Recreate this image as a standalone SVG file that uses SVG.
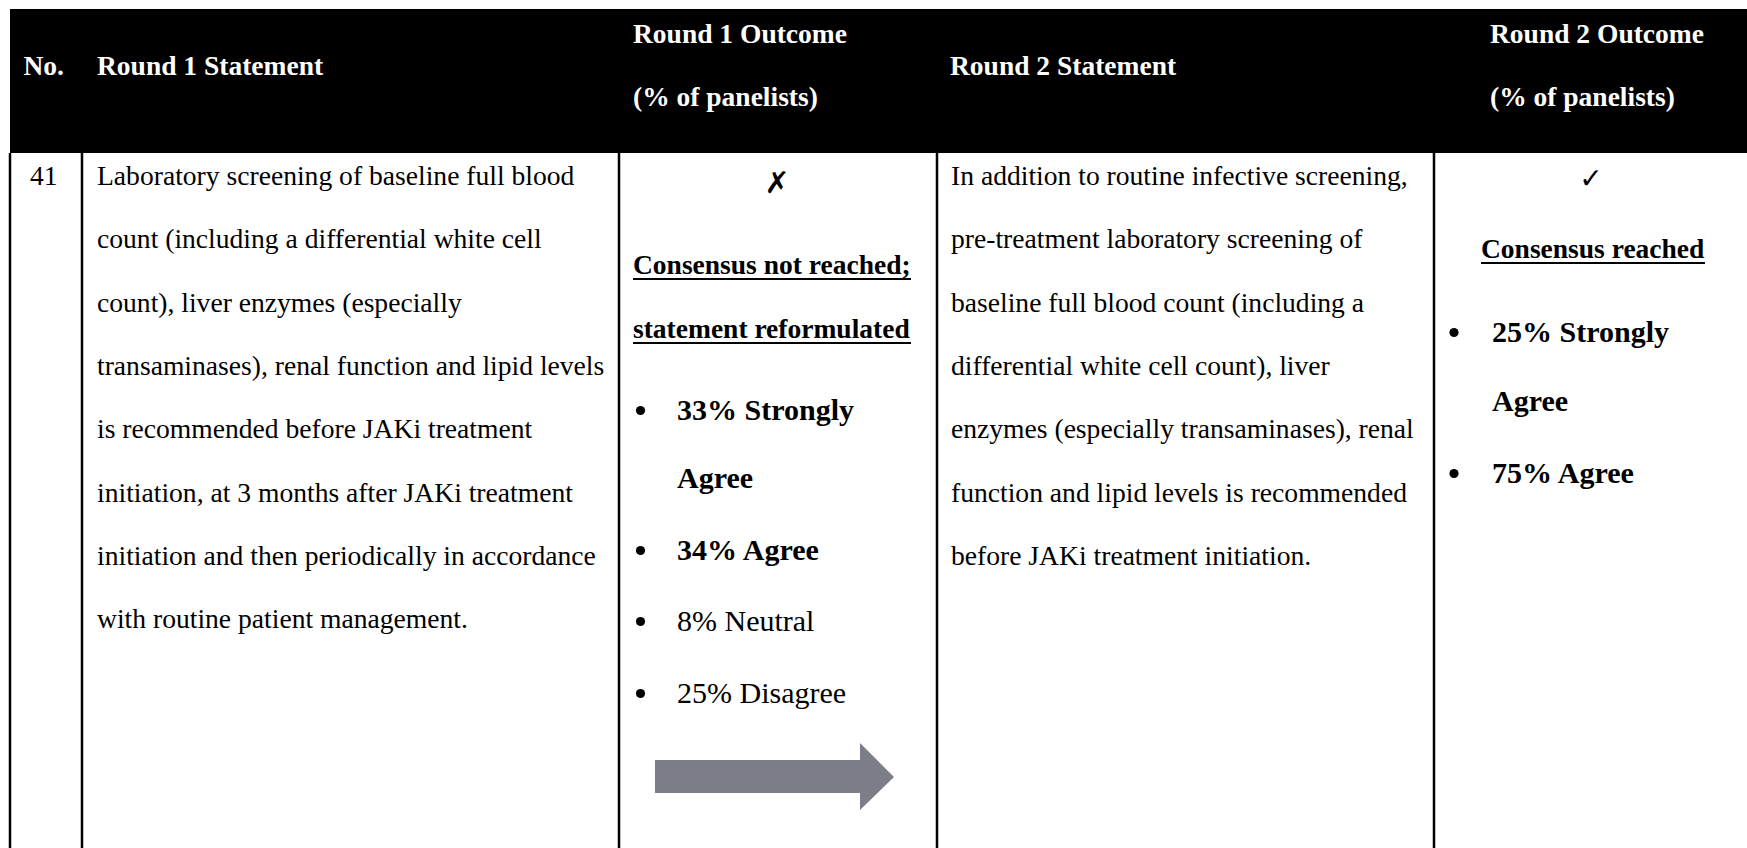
<svg xmlns="http://www.w3.org/2000/svg" width="1747" height="848" viewBox="0 0 1747 848">
  <style>
    .hd { font-family: "Liberation Serif", "Times New Roman", serif; font-weight: bold; font-size: 27.5px; fill: #ffffff; }
    .bd { font-family: "Liberation Serif", "Times New Roman", serif; font-size: 27.6px; fill: #000000; }
    .bb { font-family: "Liberation Serif", "Times New Roman", serif; font-weight: bold; font-size: 27.5px; fill: #000000; }
    .li { font-family: "Liberation Serif", "Times New Roman", serif; font-size: 30px; fill: #000000; }
    .lb { font-family: "Liberation Serif", "Times New Roman", serif; font-size: 30px; font-weight: bold; fill: #000000; }
    .sym { font-family: "DejaVu Sans", sans-serif; fill: #000000; }
    .dot { fill: #000000; }
    .rule { stroke: #000000; stroke-width: 2.5; fill: none; }
    .ul { stroke: #000000; stroke-width: 2; }
  </style>
  <rect width="1747" height="848" fill="#ffffff"/>

  <!-- header band -->
  <g id="header">
    <rect x="10" y="9" width="1737" height="144" fill="#000000"/>
    <text class="hd" x="23.5" y="75">No.</text>
    <text class="hd" x="97" y="75">Round 1 Statement</text>
    <text class="hd" x="633" y="43">Round 1 Outcome</text>
    <text class="hd" x="633" y="106">(% of panelists)</text>
    <text class="hd" x="950" y="75">Round 2 Statement</text>
    <text class="hd" x="1490" y="43">Round 2 Outcome</text>
    <text class="hd" x="1490" y="106">(% of panelists)</text>
  </g>

  <!-- column rules -->
  <g id="grid">
    <line class="rule" x1="10" y1="153" x2="10" y2="848"/>
    <line class="rule" x1="82" y1="153" x2="82" y2="848"/>
    <line class="rule" x1="619" y1="153" x2="619" y2="848"/>
    <line class="rule" x1="937" y1="153" x2="937" y2="848"/>
    <line class="rule" x1="1434" y1="153" x2="1434" y2="848"/>
  </g>

  <g id="cell-number">
    <text class="bd" x="30" y="185">41</text>
  </g>

  <g id="cell-round1-statement">
    <text class="bd" x="97" y="185">Laboratory screening of baseline full blood</text>
    <text class="bd" x="97" y="248.3">count (including a differential white cell</text>
    <text class="bd" x="97" y="311.6">count), liver enzymes (especially</text>
    <text class="bd" x="97" y="374.9">transaminases), renal function and lipid levels</text>
    <text class="bd" x="97" y="438.2">is recommended before JAKi treatment</text>
    <text class="bd" x="97" y="501.5">initiation, at 3 months after JAKi treatment</text>
    <text class="bd" x="97" y="564.8">initiation and then periodically in accordance</text>
    <text class="bd" x="97" y="628.1">with routine patient management.</text>
  </g>

  <g id="cell-round1-outcome">
    <text class="sym" x="777" y="193" font-size="30" text-anchor="middle">✗</text>
    <text class="bb" x="633" y="274">Consensus not reached;</text>
    <line class="ul" x1="633" y1="279" x2="911" y2="279"/>
    <text class="bb" x="633" y="338">statement reformulated</text>
    <line class="ul" x1="633" y1="343" x2="911" y2="343"/>
    <circle class="dot" cx="640.5" cy="410.5" r="4.6"/>
    <text class="lb" x="677" y="420">33% Strongly</text>
    <text class="lb" x="677" y="488">Agree</text>
    <circle class="dot" cx="640.5" cy="550.5" r="4.6"/>
    <text class="lb" x="677" y="560">34% Agree</text>
    <circle class="dot" cx="640.5" cy="621.5" r="4.6"/>
    <text class="li" x="677" y="631">8% Neutral</text>
    <circle class="dot" cx="640.5" cy="693.5" r="4.6"/>
    <text class="li" x="677" y="703">25% Disagree</text>
  </g>

  <!-- flow arrow from round 1 to round 2 -->
  <g id="connectors">
    <polygon points="655,760 860,760 860,743 894,777 860,810 860,793 655,793" fill="#7b7e86"/>
  </g>

  <g id="cell-round2-statement">
    <text class="bd" x="951" y="185">In addition to routine infective screening,</text>
    <text class="bd" x="951" y="248.3">pre-treatment laboratory screening of</text>
    <text class="bd" x="951" y="311.6">baseline full blood count (including a</text>
    <text class="bd" x="951" y="374.9">differential white cell count), liver</text>
    <text class="bd" x="951" y="438.2">enzymes (especially transaminases), renal</text>
    <text class="bd" x="951" y="501.5">function and lipid levels is recommended</text>
    <text class="bd" x="951" y="564.8">before JAKi treatment initiation.</text>
  </g>

  <g id="cell-round2-outcome">
    <text class="sym" x="1591" y="188" font-size="28" text-anchor="middle">✓</text>
    <text class="bb" x="1481" y="258">Consensus reached</text>
    <line class="ul" x1="1481" y1="263" x2="1705" y2="263"/>
    <circle class="dot" cx="1454" cy="332.5" r="4.6"/>
    <text class="lb" x="1492" y="342">25% Strongly</text>
    <text class="lb" x="1492" y="411">Agree</text>
    <circle class="dot" cx="1454" cy="473.5" r="4.6"/>
    <text class="lb" x="1492" y="483">75% Agree</text>
  </g>
</svg>
